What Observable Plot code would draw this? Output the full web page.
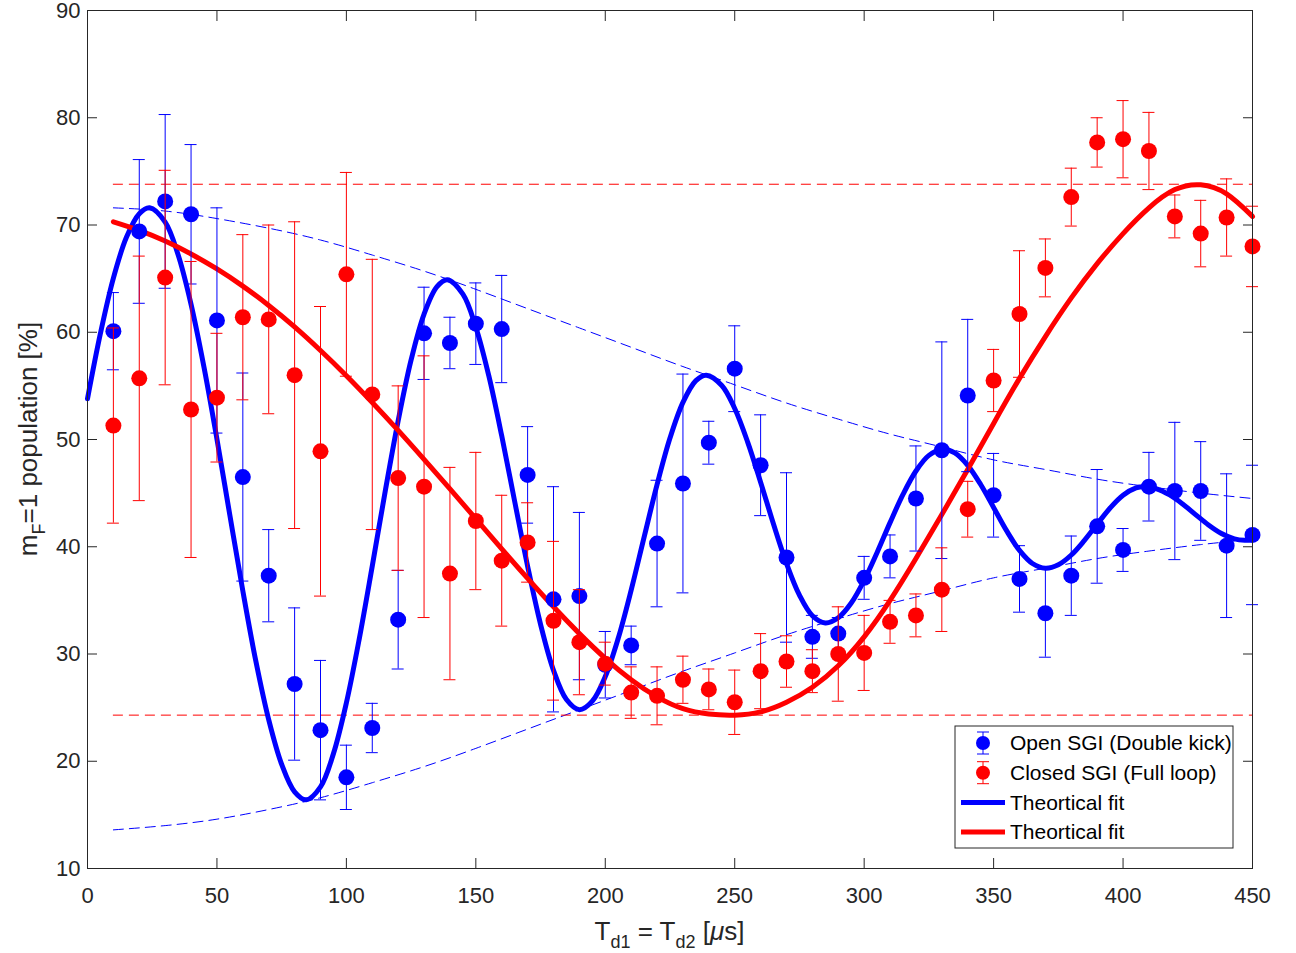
<!DOCTYPE html>
<html><head><meta charset="utf-8">
<script src="https://cdn.jsdelivr.net/npm/d3@7"></script>
<script src="https://cdn.jsdelivr.net/npm/@observablehq/plot@0.6"></script>
<style>body{margin:0;background:#fff}</style>
</head><body><div id="chart"></div>
<script>
// ---- data ----
const tDelay = [10,20,30,40,50,60,70,80,90,100,110,120,130,140,150,160,170,180,190,200,210,220,230,240,250,260,270,280,290,300,310,320,330,340,350,360,370,380,390,400,410,420,430,440,450];
const openVal = [60.1,69.4,72.2,71.0,61.1,46.5,37.3,27.2,22.9,18.5,23.1,33.2,59.9,59.0,60.8,60.3,46.7,35.1,35.4,29.0,30.8,40.3,45.9,49.7,56.6,47.6,39.0,31.6,31.9,37.1,39.1,44.5,49.0,54.1,44.8,37.0,33.8,37.3,41.9,39.7,45.6,45.2,45.2,40.1,41.1];
const openErr = [3.6,6.7,8.1,6.5,10.5,9.7,4.3,7.1,6.5,3.0,2.3,4.6,4.3,2.4,3.8,5.0,4.5,10.5,7.8,3.1,1.8,5.9,10.2,2.0,4.0,4.7,7.9,2.0,1.5,2.0,2.0,4.9,10.1,7.1,3.9,3.1,4.1,3.7,5.3,2.0,3.2,6.4,4.6,6.7,6.5];
const closedVal = [51.3,55.7,65.1,52.8,53.9,61.4,61.2,56.0,48.9,65.4,54.2,46.4,45.6,37.5,42.4,38.7,40.4,33.1,31.1,29.1,26.4,26.1,27.6,26.7,25.5,28.4,29.3,28.4,30.0,30.1,33.0,33.6,36.0,43.5,55.5,61.7,66.0,72.6,77.7,78.0,76.9,70.8,69.2,70.7,68.0];
const closedErr = [9.1,11.4,10.0,13.8,6.0,7.7,8.8,14.3,13.5,9.5,12.6,8.6,12.2,9.9,6.4,6.1,3.7,7.4,4.9,2.0,2.4,2.7,2.2,1.9,3.0,3.5,2.4,2.0,4.4,3.5,2.0,2.0,3.9,2.6,2.9,5.9,2.7,2.7,2.3,3.6,3.6,2.0,3.1,3.6,3.75];

const openFitX = [0,5,10,15,20,24,30,35,40,45,50,55,60,65,70,75,80,84.5,90,95,100,105,110,115,120,125,130,135,139,145,150,155,160,165,170,175,180,185,190,195,200,205,210,215,220,225,230,235,239,245,250,255,260,265,270,275,280,285,290,295,300,305,310,315,320,325,330.5,335,340,345,350,355,360,365,370,375,380,385,390,395,400,405,408,413,418,423,428,433,438,443,447,450];
const openFitY = [53.8,59.9,65.05,68.83,71.05,71.6,70.27,67.22,62.6,56.74,50.04,42.92,35.89,29.37,23.87,19.71,17.15,16.4,17.61,20.71,25.45,31.45,38.21,45.17,51.75,57.42,61.7,64.26,64.9,63.55,60.47,55.95,50.34,44.23,38.19,32.77,28.48,25.75,24.8,25.6,27.9,31.47,35.96,40.9,45.79,50.13,53.46,55.49,56.0,55.04,52.89,49.76,46.02,42.1,38.45,35.49,33.57,32.9,33.38,34.75,36.87,39.47,42.25,44.88,47.06,48.52,49.1,48.75,47.59,45.8,43.66,41.5,39.66,38.44,38.0,38.32,39.23,40.57,42.11,43.61,44.8,45.48,45.6,45.4,44.83,43.99,43.0,42.03,41.23,40.73,40.6,40.65];

const closedFitX = [10,20,30,40,50,60,70,80,90,100,110,120,130,140,150,160,170,180,190,200,210,220,230,240,250,260,270,280,290,300,310,320,330,340,350,360,370,380,390,400,410,420,430,440,450];
const closedFitY = [70.3,69.5,68.5,67.3,65.9,64.3,62.5,60.5,58.3,55.95,53.45,50.85,48.15,45.4,42.6,39.8,37.05,34.4,31.9,29.6,27.6,26.0,24.9,24.4,24.3,24.6,25.5,26.9,28.9,31.6,35.0,38.9,43.0,47.2,51.5,55.7,59.6,63.2,66.4,69.2,71.6,73.3,73.75,72.9,70.8];

const envX = [10,30,50,70,90,110,130,150,170,190,210,230,250,270,290,310,330,350,370,390,410,430,450];
const envUpper = [71.6,71.3,70.6,69.7,68.6,67.2,65.7,64.0,62.2,60.4,58.6,56.8,55.1,53.4,51.9,50.5,49.3,48.1,47.2,46.3,45.6,45.0,44.5];
const envLower = [13.6,14.0,14.6,15.5,16.6,18.0,19.5,21.2,23.0,24.8,26.6,28.4,30.1,31.8,33.3,34.7,35.9,37.1,38.0,38.9,39.6,40.2,40.7];

const closedLevels = [73.8, 24.3];
const levelRange = [10, 450];

const xTicks = [0,50,100,150,200,250,300,350,400,450];
const yTicks = [10,20,30,40,50,60,70,80,90];

const seriesNames = ["Open SGI (Double kick)", "Closed SGI (Full loop)", "Theortical fit", "Theortical fit"];
const BLUE = "#0000ff", RED = "#ff0000", AX = "#262626";

// ---- tables ----
const openData = tDelay.map((t,i)=>({t, v: openVal[i], e: openErr[i]}));
const closedData = tDelay.map((t,i)=>({t, v: closedVal[i], e: closedErr[i]}));
const openFit = openFitX.map((x,i)=>({x, y: openFitY[i]}));
const closedFit = closedFitX.map((x,i)=>({x, y: closedFitY[i]}));
const envU = envX.map((x,i)=>({x, y: envUpper[i]}));
const envL = envX.map((x,i)=>({x, y: envLower[i]}));
const levels = closedLevels.map(y=>({y, x1: levelRange[0], x2: levelRange[1]}));

function errMarks(data, color) {
  return [
    Plot.ruleX(data, {x: "t", y1: d=>d.v-d.e, y2: d=>d.v+d.e, stroke: color, strokeWidth: 1}),
    Plot.ruleY(data, {y: d=>d.v+d.e, x1: "t", x2: "t", insetLeft: -6, insetRight: -6, stroke: color, strokeWidth: 1}),
    Plot.ruleY(data, {y: d=>d.v-d.e, x1: "t", x2: "t", insetLeft: -6, insetRight: -6, stroke: color, strokeWidth: 1}),
    Plot.dot(data, {x: "t", y: "v", r: 8, fill: color, stroke: "none"})
  ];
}

const chart = Plot.plot({
  width: 1296, height: 953,
  marginLeft: 87, marginRight: 44, marginTop: 10, marginBottom: 85,
  style: {fontFamily: "'Liberation Sans', Arial, Helvetica, sans-serif", fontSize: "22px", color: AX, background: "white"},
  x: {domain: [0, 450]},
  y: {domain: [10, 90]},
  marks: [
    Plot.line(envU, {x: "x", y: "y", stroke: BLUE, strokeWidth: 1, strokeDasharray: "10,6", curve: "natural"}),
    Plot.line(envL, {x: "x", y: "y", stroke: BLUE, strokeWidth: 1, strokeDasharray: "10,6", curve: "natural"}),
    Plot.ruleY(levels, {y: "y", x1: "x1", x2: "x2", stroke: RED, strokeWidth: 1, strokeDasharray: "10,6"}),
    Plot.line(openFit, {x: "x", y: "y", stroke: BLUE, strokeWidth: 5, curve: "catmull-rom"}),
    Plot.line(closedFit, {x: "x", y: "y", stroke: RED, strokeWidth: 5, curve: "natural"}),
    ...errMarks(openData, BLUE),
    ...errMarks(closedData, RED),
    Plot.frame({stroke: AX, strokeWidth: 1}),
    Plot.axisX(xTicks, {anchor: "bottom", tickSize: -10, tickPadding: 29, label: null}),
    Plot.axisX(xTicks, {anchor: "top", tickSize: -10, tickFormat: () => "", label: null}),
    Plot.axisY(yTicks, {anchor: "left", tickSize: -10, tickPadding: 17, label: null}),
    Plot.axisY(yTicks, {anchor: "right", tickSize: -10, tickFormat: () => "", label: null})
  ]
});
document.getElementById("chart").appendChild(chart);

// ---- axis labels & legend ----
const svg = d3.select(chart);
const font = "'Liberation Sans', Arial, Helvetica, sans-serif";
const W = 1296, H = 953, mL = 87, mR = 44, mT = 10, mB = 85;
const midX = (mL + W - mR) / 2, midY = (mT + H - mB) / 2;

const xl = svg.append("text").attr("x", midX).attr("y", H - 13).attr("text-anchor", "middle")
  .attr("font-family", font).attr("font-size", 26).attr("fill", AX);
xl.append("tspan").text("T");
xl.append("tspan").attr("dy", 8).attr("font-size", 18).text("d1");
xl.append("tspan").attr("dy", -8).text(" = T");
xl.append("tspan").attr("dy", 8).attr("font-size", 18).text("d2");
xl.append("tspan").attr("dy", -8).text(" [");
xl.append("tspan").attr("font-style", "italic").text("\u03bc");
xl.append("tspan").text("s]");

const yl = svg.append("text").attr("transform", `translate(37,${midY}) rotate(-90)`).attr("text-anchor", "middle")
  .attr("font-family", font).attr("font-size", 26).attr("fill", AX);
yl.append("tspan").text("m");
yl.append("tspan").attr("dy", 8).attr("font-size", 18).text("F");
yl.append("tspan").attr("dy", -8).text("=1 population [%]");

const lg = svg.append("g").attr("font-family", font).attr("font-size", 21).attr("text-anchor", "start");
const lx = W - mR - 19, lw = 278, lh = 122, ly = H - mB - 20 - lh;
lg.append("rect").attr("x", lx - lw).attr("y", ly).attr("width", lw).attr("height", lh)
  .attr("fill", "white").attr("stroke", AX).attr("stroke-width", 1);
const rowY = i => ly + 17 + i * 29.7;
const symX = lx - lw + 28;
[BLUE, RED].forEach((c, i) => {
  const y = rowY(i);
  lg.append("line").attr("x1", symX).attr("x2", symX).attr("y1", y - 11).attr("y2", y + 11).attr("stroke", c);
  lg.append("line").attr("x1", symX - 6).attr("x2", symX + 6).attr("y1", y - 11).attr("y2", y - 11).attr("stroke", c);
  lg.append("line").attr("x1", symX - 6).attr("x2", symX + 6).attr("y1", y + 11).attr("y2", y + 11).attr("stroke", c);
  lg.append("circle").attr("cx", symX).attr("cy", y).attr("r", 7).attr("fill", c);
});
[BLUE, RED].forEach((c, i) => {
  const y = rowY(i + 2);
  lg.append("line").attr("x1", lx - lw + 6).attr("x2", lx - lw + 50).attr("y1", y).attr("y2", y).attr("stroke", c).attr("stroke-width", 5);
});
seriesNames.forEach((s, i) => {
  lg.append("text").attr("x", lx - lw + 55).attr("y", rowY(i)).attr("dy", "0.35em").attr("fill", "#000").text(s);
});
</script>
</body></html>
